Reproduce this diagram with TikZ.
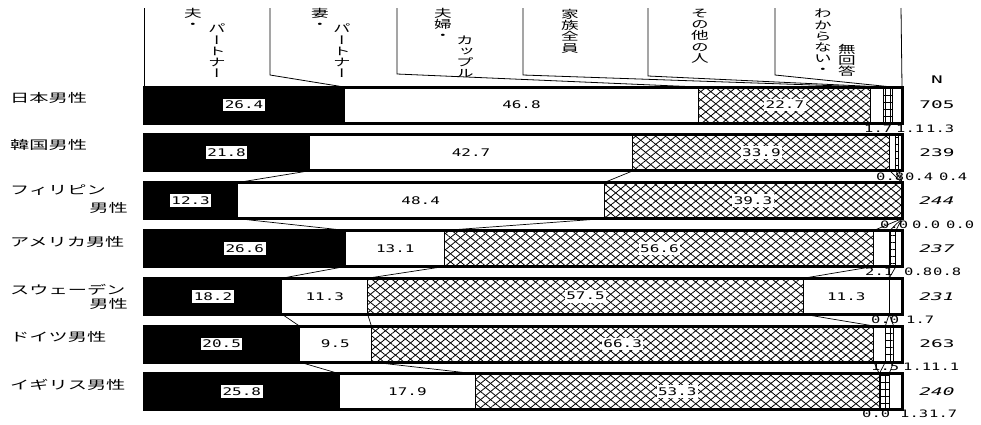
\documentclass[tikz,border=0pt]{standalone}
\usepackage{fontspec}
\usetikzlibrary{patterns.meta}
\newfontfamily\jpf{Noto Sans CJK JP}[FakeStretch=1.6]
\newfontfamily\jpvf{Noto Sans CJK JP}[FakeStretch=1.6,RawFeature=+vert]
\newfontfamily\numf{DejaVu Sans Mono}[FakeStretch=1.52]
\newfontfamily\numnf{DejaVu Sans Mono}[FakeStretch=1.85]
\tikzset{
 segb/.style={fill=black,draw=black,line width=1pt},
 segw/.style={fill=white,draw=black,line width=1pt},
 segedge/.style={draw=black,line width=1pt},
 xhatchA/.style={pattern={Lines[angle=39,distance=6.3pt,line width=0.8pt]}},
 xhatchB/.style={pattern={Lines[angle=-39,distance=6.3pt,line width=0.8pt]}},
 gridA/.style={pattern={Lines[angle=0,distance=7pt,line width=0.8pt]}},
 gridB/.style={pattern={Lines[angle=90,distance=5pt,line width=0.8pt]}},
 barframe/.style={draw=black,line width=3pt},
 series/.style={draw=black,line width=0.7pt},
 hline/.style={draw=black,line width=0.8pt},
 inlbl/.style={font=\numf\fontsize{10.5}{12}\selectfont,fill=white,inner xsep=1.5pt,inner ysep=2.5pt},
 smlbl/.style={font=\numf\fontsize{10.2}{12}\selectfont,inner sep=0pt,anchor=west},
 nlbl/.style={font=\numnf\fontsize{10.5}{12}\selectfont,inner sep=0pt},
 rowlbl/.style={font=\jpf\fontsize{12}{14}\selectfont,inner sep=0pt},
 hdr/.style={font=\jpvf\fontsize{11}{11.2}\selectfont,align=center,inner sep=0pt},
}
% #1 row index, #2 top y, #3..#8 six shares
\newcommand\barrow[8]{%
  \pgfmathsetmacro\bxA{144+7.58*(#3)}%
  \pgfmathsetmacro\bxB{\bxA+7.58*(#4)}%
  \pgfmathsetmacro\bxC{\bxB+7.58*(#5)}%
  \pgfmathsetmacro\bxD{\bxC+7.58*(#6)}%
  \pgfmathsetmacro\bxE{\bxD+7.58*(#7)}%
  \pgfmathsetmacro\byB{#2+36}%
  \pgfmathsetmacro\byM{#2+18}%
  \path[segb] (144,#2) rectangle (\bxA,\byB);
  \path[segw] (\bxA,#2) rectangle (\bxB,\byB);
  \path[fill=white] (\bxB,#2) rectangle (\bxC,\byB);
  \path[xhatchA] (\bxB,#2) rectangle (\bxC,\byB);
  \path[xhatchB] (\bxB,#2) rectangle (\bxC,\byB);
  \path[segedge] (\bxB,#2) rectangle (\bxC,\byB);
  \path[segw] (\bxC,#2) rectangle (\bxD,\byB);
  \path[fill=white] (\bxD,#2) rectangle (\bxE,\byB);
  \path[gridA] (\bxD,#2) rectangle (\bxE,\byB);
  \path[gridB] (\bxD,#2) rectangle (\bxE,\byB);
  \path[segedge] (\bxD,#2) rectangle (\bxE,\byB);
  \path[segw] (\bxE,#2) rectangle (902,\byB);
  \path[barframe] (144,#2) rectangle (902,\byB);
  \coordinate (r#1-0-t) at (144,#2);
  \coordinate (r#1-1-t) at (\bxA,#2);  \coordinate (r#1-1-b) at (\bxA,\byB);
  \coordinate (r#1-2-t) at (\bxB,#2);  \coordinate (r#1-2-b) at (\bxB,\byB);
  \coordinate (r#1-3-t) at (\bxC,#2);  \coordinate (r#1-3-b) at (\bxC,\byB);
  \coordinate (r#1-4-t) at (\bxD,#2);  \coordinate (r#1-4-b) at (\bxD,\byB);
  \coordinate (r#1-5-t) at (\bxE,#2);  \coordinate (r#1-5-b) at (\bxE,\byB);
  \coordinate (r#1-6-t) at (902,#2);
  \coordinate (r#1-m1) at ({(144+\bxA)/2},\byM);
  \coordinate (r#1-m2) at ({(\bxA+\bxB)/2},\byM);
  \coordinate (r#1-m3) at ({(\bxB+\bxC)/2},\byM);
  \coordinate (r#1-m4) at ({(\bxC+\bxD)/2},\byM);
  \coordinate (r#1-n) at (937,\byM);
}
\begin{document}
\begin{tikzpicture}[x=1pt,y=-1pt]
\useasboundingbox[fill=white] (0,0) rectangle (981,424);
% bars
\barrow{1}{87}{26.4}{46.8}{22.7}{1.7}{1.1}{1.3}
\barrow{2}{134.8}{21.8}{42.7}{33.9}{0.8}{0.4}{0.4}
\barrow{3}{182.6}{12.3}{48.4}{39.3}{0.0}{0.0}{0.0}
\barrow{4}{230.4}{26.6}{13.1}{56.6}{2.1}{0.8}{0.8}
\barrow{5}{278.2}{18.2}{11.3}{57.5}{11.3}{0.0}{1.7}
\barrow{6}{326}{20.5}{9.5}{66.3}{1.5}{1.1}{1.1}
\barrow{7}{373.8}{25.8}{17.9}{53.3}{0.0}{1.3}{1.7}
% series lines
\foreach \i/\j in {2/3,3/4,4/5,5/6,6/7}
  \foreach \k in {1,...,5}
    \draw[series] (r\i-\k-b) -- (r\j-\k-t);
% header lines
\coordinate (h1t) at (144,8);
\coordinate (h2t) at (270,8); \coordinate (h2b) at (270,75);
\coordinate (h3t) at (397,8); \coordinate (h3b) at (397,74);
\coordinate (h4t) at (523,8); \coordinate (h4b) at (523,75);
\coordinate (h5t) at (648,8); \coordinate (h5b) at (648,76);
\coordinate (h6t) at (775,8); \coordinate (h6b) at (775,75);
\coordinate (h7t) at (901,8);
\draw[hline] (h1t) -- (r1-0-t);
\draw[hline] (h2t) -- (h2b) -- (r1-1-t);
\draw[hline] (h3t) -- (h3b) -- (r1-2-t);
\draw[hline] (h4t) -- (h4b) -- (r1-3-t);
\draw[hline] (h5t) -- (h5b) -- (r1-4-t);
\draw[hline] (h6t) -- (h6b) -- (r1-5-t);
\draw[hline] (h7t) -- (r1-6-t);
% header texts
\node[hdr,anchor=north] (h1a) at (193,8) {夫\\・};
\node[hdr,anchor=south] (h1b) at (217,78) {パ\\ー\\ト\\ナ\\ー};
\node[hdr,anchor=north] (h2a) at (320,8) {妻\\・};
\node[hdr,anchor=south] (h2b) at (342,78) {パ\\ー\\ト\\ナ\\ー};
\node[hdr,anchor=north] (h3a) at (443,8) {夫\\婦\\・};
\node[hdr,anchor=south] (h3b) at (465,78) {カ\\ッ\\プ\\ル};
\node[hdr,anchor=north] (h4a) at (570,9) {家\\族\\全\\員};
\node[hdr,anchor=north] (h5a) at (700,9) {そ\\の\\他\\の\\人};
\node[hdr,anchor=north] (h6a) at (823,9) {わ\\か\\ら\\な\\い\\・};
\node[hdr,anchor=south] (h6b) at (847,77) {無\\回\\答};
\node[nlbl] (nh) at (937,80) {N};
% row labels
\node[rowlbl,anchor=west] (c1) at (10,98) {日本男性};
\node[rowlbl,anchor=west] (c2) at (10,145) {韓国男性};
\node[rowlbl,anchor=west] (c3a) at (10,190) {フィリピン};
\node[rowlbl,anchor=east] (c3b) at (128,208) {男性};
\node[rowlbl,anchor=west] (c4) at (10,242) {アメリカ男性};
\node[rowlbl,anchor=west] (c5a) at (10,290) {スウェーデン};
\node[rowlbl,anchor=east] (c5b) at (128,304) {男性};
\node[rowlbl,anchor=west] (c6) at (10,337) {ドイツ男性};
\node[rowlbl,anchor=west] (c7) at (10,385) {イギリス男性};
% in-bar labels
\node[inlbl] (v11) at (r1-m1) {26.4};
\node[inlbl] (v12) at (r1-m2) {46.8};
\node[inlbl] (v13) at (r1-m3) {22.7};
\node[inlbl] (v21) at (r2-m1) {21.8};
\node[inlbl] (v22) at (r2-m2) {42.7};
\node[inlbl] (v23) at (r2-m3) {33.9};
\node[inlbl] (v31) at (r3-m1) {12.3};
\node[inlbl] (v32) at (r3-m2) {48.4};
\node[inlbl] (v33) at (r3-m3) {39.3};
\node[inlbl] (v41) at (r4-m1) {26.6};
\node[inlbl] (v42) at (r4-m2) {13.1};
\node[inlbl] (v43) at (r4-m3) {56.6};
\node[inlbl] (v51) at (r5-m1) {18.2};
\node[inlbl] (v52) at (r5-m2) {11.3};
\node[inlbl] (v53) at (r5-m3) {57.5};
\node[inlbl] (v54) at (r5-m4) {11.3};
\node[inlbl] (v61) at (r6-m1) {20.5};
\node[inlbl] (v62) at (r6-m2) {9.5};
\node[inlbl] (v63) at (r6-m3) {66.3};
\node[inlbl] (v71) at (r7-m1) {25.8};
\node[inlbl] (v72) at (r7-m2) {17.9};
\node[inlbl] (v73) at (r7-m3) {53.3};
% small labels
\node[smlbl] (s14) at (864,129) {1.7};
\node[smlbl] (s15) at (896,129) {1.1};
\node[smlbl] (s16) at (926,129) {1.3};
\node[smlbl] (s24) at (876,177) {0.8};
\node[smlbl] (s25) at (905,177) {0.4};
\node[smlbl] (s26) at (939,177) {0.4};
\node[smlbl] (s34) at (880,225) {0.0};
\node[smlbl] (s35) at (912,225) {0.0};
\node[smlbl] (s36) at (946,225) {0.0};
\node[smlbl] (s44) at (865,272) {2.1};
\node[smlbl] (s45) at (904,272) {0.8};
\node[smlbl] (s46) at (933,272) {0.8};
\node[smlbl] (s55) at (871,320) {0.0};
\node[smlbl] (s56) at (906,320) {1.7};
\node[smlbl] (s64) at (871,367) {1.5};
\node[smlbl] (s65) at (903,367) {1.1};
\node[smlbl] (s66) at (931,367) {1.1};
\node[smlbl] (s74) at (862,414) {0.0};
\node[smlbl] (s75) at (900,414) {1.3};
\node[smlbl] (s76) at (929,414) {1.7};
% N values
\node[nlbl] (n1) at (r1-n) {705};
\node[nlbl] (n2) at (r2-n) {239};
\node[nlbl] (n3) at (r3-n) {\itshape 244};
\node[nlbl] (n4) at (r4-n) {\itshape 237};
\node[nlbl] (n5) at (r5-n) {\itshape 231};
\node[nlbl] (n6) at (r6-n) {263};
\node[nlbl] (n7) at (r7-n) {\itshape 240};
\end{tikzpicture}
\end{document}
